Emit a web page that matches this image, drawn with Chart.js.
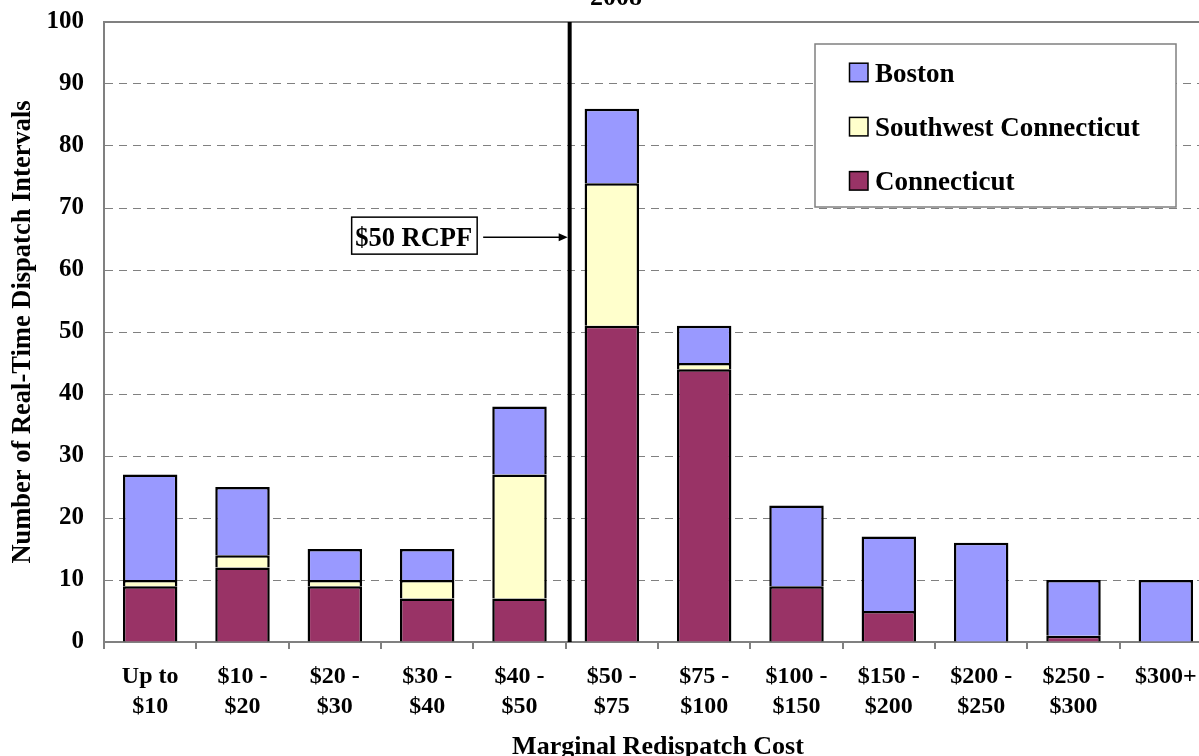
<!DOCTYPE html>
<html>
<head>
<meta charset="utf-8">
<script src="https://cdn.jsdelivr.net/npm/chart.js@4/dist/chart.umd.min.js"></script>
<style>
  html, body { margin: 0; padding: 0; background: #fff; overflow: hidden; }
  #wrap { width: 1215px; height: 756px; }
</style>
</head>
<body>
<div id="wrap"><canvas id="c" width="1215" height="756"></canvas></div>
<script>
// ---- Data ----
const chartTitle = "2008";
const categories = [
  ["Up to", "$10"], ["$10 -", "$20"], ["$20 -", "$30"], ["$30 -", "$40"],
  ["$40 -", "$50"], ["$50 -", "$75"], ["$75 -", "$100"], ["$100 -", "$150"],
  ["$150 -", "$200"], ["$200 -", "$250"], ["$250 -", "$300"], ["$300+"]
];
const connecticut = [9, 12, 9, 7, 7, 51, 44, 9, 5, 0, 1, 0];
const southwestCT = [1, 2, 1, 3, 20, 23, 1, 0, 0, 0, 0, 0];
const boston      = [17, 11, 5, 5, 11, 12, 6, 13, 12, 16, 9, 10];
const seriesNames = ["Connecticut", "Southwest Connecticut", "Boston"];
const seriesColors = ["#993366", "#FFFFCC", "#9999FF"];
const yTicks = [0, 10, 20, 30, 40, 50, 60, 70, 80, 90, 100];
const annotationText = "$50 RCPF";
const annotationValue = 65.3;
const xTitle = "Marginal Redispatch Cost";
const yTitle = "Number of Real-Time Dispatch Intervals";

const FONT = '"Liberation Serif", "Times New Roman", Times, serif';
Chart.defaults.font.family = FONT;
Chart.defaults.color = "#000";

const seriesData = [connecticut, southwestCT, boston];

const datasets = seriesNames.map((name, i) => ({
  label: name,
  data: seriesData[i],
  backgroundColor: seriesColors[i],
  borderColor: "#000",
  borderWidth: { left: 2.5, right: 2.5, top: 2.5, bottom: 0 },
  borderSkipped: false,
  barPercentage: 0.59,
  categoryPercentage: 1.0
}));

const extras = {
  id: "extras",
  afterDraw(chart) {
    const { ctx, chartArea, scales } = chart;
    const xs = scales.x, ys = scales.y;
    ctx.save();
    // top frame line
    ctx.strokeStyle = "#808080";
    ctx.lineWidth = 2;
    ctx.beginPath();
    ctx.moveTo(chartArea.left, chartArea.top);
    ctx.lineTo(chartArea.right, chartArea.top);
    ctx.stroke();

    // vertical $50 line
    const lineX = (xs.getPixelForValue(4) + xs.getPixelForValue(5)) / 2 + 4;
    ctx.strokeStyle = "#000";
    ctx.lineWidth = 4;
    ctx.beginPath();
    ctx.moveTo(lineX, chartArea.top);
    ctx.lineTo(lineX, chartArea.bottom);
    ctx.stroke();

    // annotation box + arrow
    const ay = ys.getPixelForValue(annotationValue);
    ctx.font = "bold 26.5px " + FONT;
    ctx.textBaseline = "alphabetic";
    ctx.textAlign = "left";
    const boxL = lineX - 218, boxR = lineX - 92.5;
    const boxT = ay - 20, boxB = ay + 17;
    ctx.fillStyle = "#fff";
    ctx.fillRect(boxL, boxT, boxR - boxL, boxB - boxT);
    ctx.strokeStyle = "#000";
    ctx.lineWidth = 1.5;
    ctx.strokeRect(boxL, boxT, boxR - boxL, boxB - boxT);
    ctx.fillStyle = "#000";
    ctx.fillText(annotationText, boxL + 3.5, ay + 9);
    ctx.lineWidth = 1.5;
    ctx.beginPath();
    ctx.moveTo(boxR + 6, ay);
    ctx.lineTo(lineX - 10, ay);
    ctx.stroke();
    ctx.beginPath();
    ctx.moveTo(lineX - 2, ay);
    ctx.lineTo(lineX - 11, ay - 4);
    ctx.lineTo(lineX - 11, ay + 4);
    ctx.closePath();
    ctx.fill();

    // legend box
    const lx = 815, ly = 44, lw = 361, lh = 163;
    ctx.fillStyle = "#fff";
    ctx.fillRect(lx, ly, lw, lh);
    ctx.strokeStyle = "#808080";
    ctx.lineWidth = 1.5;
    ctx.strokeRect(lx, ly, lw, lh);
    ctx.font = "bold 27px " + FONT;
    const order = [2, 1, 0];
    order.forEach((si, k) => {
      const base = 81.7 + k * 54.2;
      ctx.fillStyle = seriesColors[si];
      ctx.fillRect(849.5, base - 18.5, 18.5, 18.5);
      ctx.strokeStyle = "#000";
      ctx.lineWidth = 1.5;
      ctx.strokeRect(849.5, base - 18.5, 18.5, 18.5);
      ctx.fillStyle = "#000";
      ctx.fillText(seriesNames[si], 875, base);
    });

    // chart title (cut off at top)
    ctx.font = "bold 26px " + FONT;
    ctx.textAlign = "center";
    ctx.fillText(chartTitle, 616, 5);
    ctx.restore();
  }
};

new Chart(document.getElementById("c"), {
  type: "bar",
  data: { labels: categories, datasets },
  options: {
    responsive: false,
    animation: false,
    devicePixelRatio: 1,
    layout: { padding: { left: 0, top: 22, right: 3, bottom: 0 } },
    plugins: { legend: { display: false }, tooltip: { enabled: false }, title: { display: false } },
    scales: {
      x: {
        stacked: true,
        afterFit(scale) { scale.height = 114; scale.paddingLeft = 0; scale.paddingRight = 0; },
        grid: { display: true, drawOnChartArea: false, drawTicks: true, tickLength: 7, color: "#808080", lineWidth: 2, offset: true },
        border: { display: true, color: "#808080", width: 2 },
        ticks: { font: { size: 24, weight: "bold", lineHeight: 1.25 }, color: "#000", padding: 13, maxRotation: 0, autoSkip: false },
        title: { display: true, text: xTitle, font: { size: 26, weight: "bold", lineHeight: 0.7 }, color: "#000", padding: { top: 0, bottom: 0 } }
      },
      y: {
        stacked: true,
        min: 0, max: 100,
        afterFit(scale) { scale.width = 104; scale.paddingTop = 0; scale.paddingBottom = 0; },
        afterBuildTicks(scale) { scale.ticks = yTicks.map(v => ({ value: v })); },
        grid: {
          drawTicks: false,
          color: (c) => (c.tick && (c.tick.value === 0 || c.tick.value === 100)) ? "rgba(0,0,0,0)" : "#808080",
          lineWidth: 1
        },
        border: { display: true, color: "#808080", width: 2, dash: [8, 6] },
        ticks: { font: { size: 25, weight: "bold" }, color: "#000", padding: 20 },
        title: { display: true, text: yTitle, font: { size: 26.5, weight: "bold", lineHeight: 1.2 }, color: "#000", padding: { top: 7, bottom: 0 } }
      }
    }
  },
  plugins: [extras]
});
</script>
</body>
</html>
